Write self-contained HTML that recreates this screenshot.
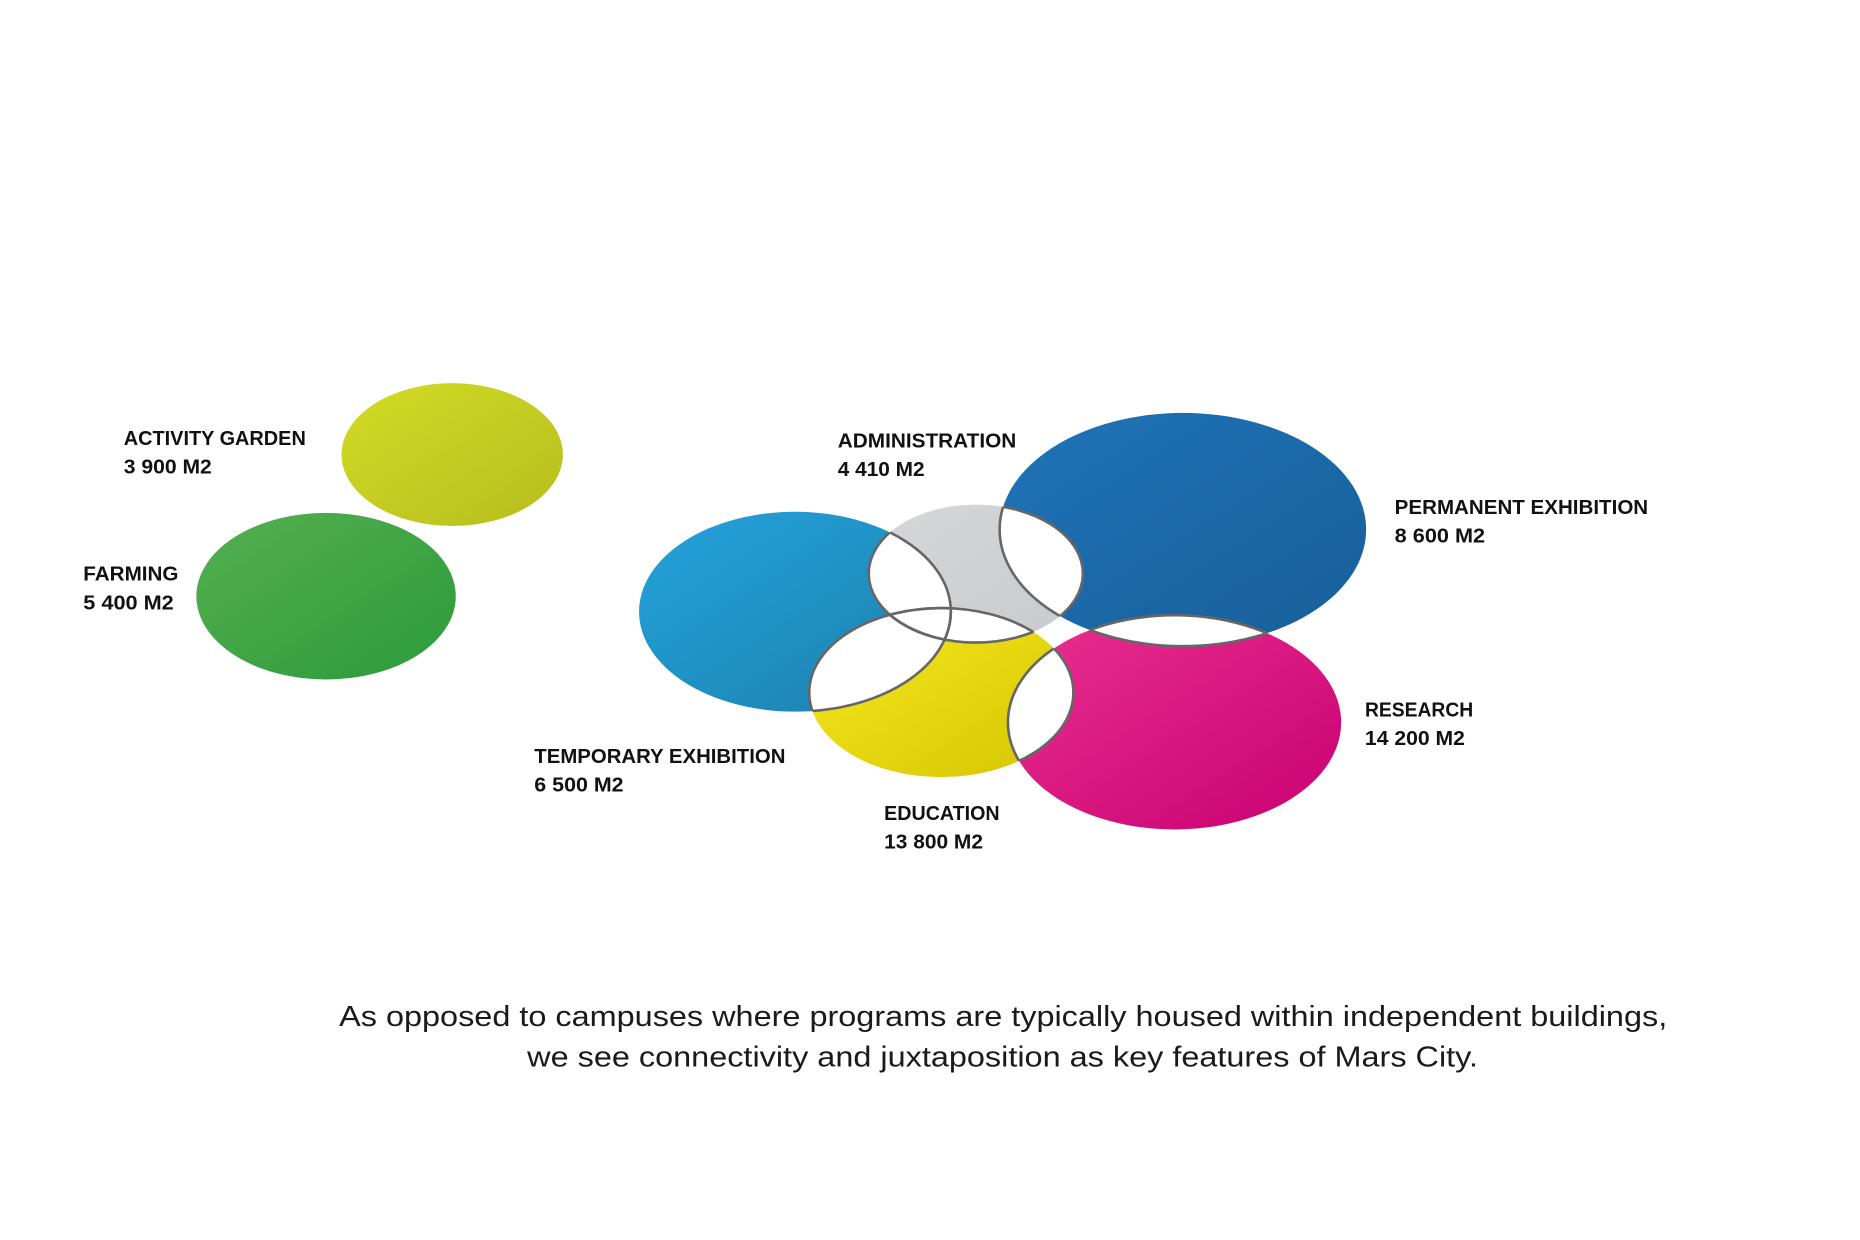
<!DOCTYPE html>
<html><head><meta charset="utf-8"><style>
html,body{margin:0;padding:0;background:#fff;}
svg{display:block;}
</style></head><body>
<svg width="1860" height="1240" viewBox="0 0 1563 1042" xmlns="http://www.w3.org/2000/svg">
<defs>
<linearGradient id="gA" x1="0" y1="0" x2="1" y2="1"><stop offset="0" stop-color="#d2dc24"/><stop offset="1" stop-color="#b6bd1e"/></linearGradient>
<linearGradient id="gF" x1="0" y1="0" x2="1" y2="1"><stop offset="0" stop-color="#55b050"/><stop offset="1" stop-color="#2b9a3a"/></linearGradient>
<linearGradient id="gT" x1="0" y1="0" x2="1" y2="1"><stop offset="0" stop-color="#24a3dc"/><stop offset="1" stop-color="#1c7fac"/></linearGradient>
<linearGradient id="gG" x1="0" y1="0" x2="1" y2="1"><stop offset="0" stop-color="#d6d7d9"/><stop offset="1" stop-color="#c9cacc"/></linearGradient>
<linearGradient id="gP" x1="0" y1="0" x2="1" y2="1"><stop offset="0" stop-color="#1f74b9"/><stop offset="1" stop-color="#175e98"/></linearGradient>
<linearGradient id="gE" x1="0" y1="0" x2="1" y2="1"><stop offset="0" stop-color="#f6ea22"/><stop offset="1" stop-color="#d6c400"/></linearGradient>
<linearGradient id="gR" x1="0" y1="0" x2="1" y2="1"><stop offset="0" stop-color="#ea3190"/><stop offset="1" stop-color="#c80072"/></linearGradient>
<clipPath id="cT"><ellipse cx="668" cy="514" rx="131" ry="84"/></clipPath>
<clipPath id="cG"><ellipse cx="820" cy="482" rx="90" ry="58"/></clipPath>
<clipPath id="cP"><ellipse cx="994" cy="445" rx="154" ry="98"/></clipPath>
<clipPath id="cE"><ellipse cx="791" cy="582" rx="111" ry="71"/></clipPath>
<clipPath id="cR"><ellipse cx="987" cy="607" rx="140" ry="90"/></clipPath>
</defs>
<ellipse cx="380" cy="382" rx="93" ry="60" fill="url(#gA)"/>
<ellipse cx="274" cy="501" rx="109" ry="70" fill="url(#gF)"/>

<ellipse cx="668" cy="514" rx="131" ry="84" fill="url(#gT)"/>
<ellipse cx="994" cy="445" rx="154" ry="98" fill="url(#gP)"/>
<ellipse cx="987" cy="607" rx="140" ry="90" fill="url(#gR)"/>
<ellipse cx="791" cy="582" rx="111" ry="71" fill="url(#gE)"/>
<ellipse cx="820" cy="482" rx="90" ry="58" fill="url(#gG)"/>

<!-- white intersections -->
<g fill="#fff">
<ellipse clip-path="url(#cT)" cx="820" cy="482" rx="90" ry="58"/>
<ellipse clip-path="url(#cT)" cx="791" cy="582" rx="111" ry="71"/>
<ellipse clip-path="url(#cG)" cx="994" cy="445" rx="154" ry="98"/>
<ellipse clip-path="url(#cG)" cx="791" cy="582" rx="111" ry="71"/>
<ellipse clip-path="url(#cP)" cx="987" cy="607" rx="140" ry="90"/>
<ellipse clip-path="url(#cE)" cx="987" cy="607" rx="140" ry="90"/>
</g>
<!-- lens outlines -->
<g fill="none" stroke="#666" stroke-width="2.2">
<ellipse clip-path="url(#cT)" cx="820" cy="482" rx="90" ry="58"/>
<ellipse clip-path="url(#cG)" cx="668" cy="514" rx="131" ry="84"/>
<ellipse clip-path="url(#cT)" cx="791" cy="582" rx="111" ry="71"/>
<ellipse clip-path="url(#cE)" cx="668" cy="514" rx="131" ry="84"/>
<ellipse clip-path="url(#cG)" cx="994" cy="445" rx="154" ry="98"/>
<ellipse clip-path="url(#cP)" cx="820" cy="482" rx="90" ry="58"/>
<ellipse clip-path="url(#cG)" cx="791" cy="582" rx="111" ry="71"/>
<ellipse clip-path="url(#cE)" cx="820" cy="482" rx="90" ry="58"/>
<ellipse clip-path="url(#cP)" cx="987" cy="607" rx="140" ry="90"/>
<ellipse clip-path="url(#cR)" cx="994" cy="445" rx="154" ry="98"/>
<ellipse clip-path="url(#cE)" cx="987" cy="607" rx="140" ry="90"/>
<ellipse clip-path="url(#cR)" cx="791" cy="582" rx="111" ry="71"/>
</g>

<g font-family="'Liberation Sans', sans-serif" font-weight="bold" font-size="17" fill="#111">
<text x="104" y="374" textLength="153" lengthAdjust="spacingAndGlyphs">ACTIVITY GARDEN</text>
<text x="104" y="398" textLength="74" lengthAdjust="spacingAndGlyphs">3 900 M2</text>
<text x="70" y="488" textLength="80" lengthAdjust="spacingAndGlyphs">FARMING</text>
<text x="70" y="512" textLength="76" lengthAdjust="spacingAndGlyphs">5 400 M2</text>
<text x="704" y="376" textLength="150" lengthAdjust="spacingAndGlyphs">ADMINISTRATION</text>
<text x="704" y="400" textLength="73" lengthAdjust="spacingAndGlyphs">4 410 M2</text>
<text x="1172" y="432" textLength="213" lengthAdjust="spacingAndGlyphs">PERMANENT EXHIBITION</text>
<text x="1172" y="456" textLength="76" lengthAdjust="spacingAndGlyphs">8 600 M2</text>
<text x="1147" y="602" textLength="91" lengthAdjust="spacingAndGlyphs">RESEARCH</text>
<text x="1147" y="626" textLength="84" lengthAdjust="spacingAndGlyphs">14 200 M2</text>
<text x="449" y="641" textLength="211" lengthAdjust="spacingAndGlyphs">TEMPORARY EXHIBITION</text>
<text x="449" y="665" textLength="75" lengthAdjust="spacingAndGlyphs">6 500 M2</text>
<text x="743" y="689" textLength="97" lengthAdjust="spacingAndGlyphs">EDUCATION</text>
<text x="743" y="713" textLength="83" lengthAdjust="spacingAndGlyphs">13 800 M2</text>
</g>
<g font-family="'Liberation Sans', sans-serif" font-size="24" fill="#1a1a1a">
<text x="285" y="862" textLength="1116" lengthAdjust="spacingAndGlyphs">As opposed to campuses where programs are typically housed within independent buildings,</text>
<text x="443" y="896" textLength="799" lengthAdjust="spacingAndGlyphs">we see connectivity and juxtaposition as key features of Mars City.</text>
</g>
</svg>
</body></html>
